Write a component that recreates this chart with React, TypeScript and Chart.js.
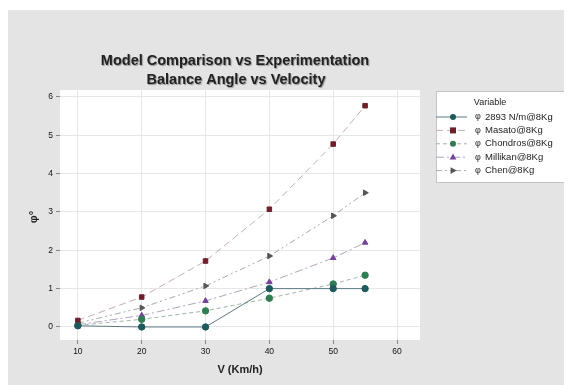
import React, { useEffect, useRef } from "react";
import { Chart, registerables } from "chart.js";

Chart.register(...registerables);

const velocities = [10, 20, 30, 40, 50, 55];
const spring2893 = [0.03, 0, 0, 1.0, 1.0, 1.0];
const masato = [0.17, 0.78, 1.72, 3.07, 4.77, 5.77];
const chondros = [0.04, 0.2, 0.42, 0.75, 1.12, 1.35];
const millikan = [0.06, 0.3, 0.68, 1.17, 1.8, 2.2];
const chen = [0.1, 0.5, 1.07, 1.85, 2.9, 3.5];

const seriesNames = ["2893 N/m@8Kg", "Masato@8Kg", "Chondros@8Kg", "Millikan@8Kg", "Chen@8Kg"];
const seriesPrefix = "φ";
const xTicks = [10, 20, 30, 40, 50, 60];
const yTicks = [0, 1, 2, 3, 4, 5, 6];
const titleLines = ["Model Comparison vs Experimentation", "Balance Angle vs Velocity"];
const xTitle = "V (Km/h)";
const yTitle = "φ°";
const legendTitle = "Variable";

const FONT = "'Liberation Sans', Arial, sans-serif";

function drawMarker(ctx: CanvasRenderingContext2D, style: string, rot: number, x: number, y: number, r: number, color: string) {
  ctx.save();
  ctx.fillStyle = color;
  ctx.translate(x, y);
  ctx.rotate((rot * Math.PI) / 180);
  ctx.beginPath();
  if (style === "rect") {
    ctx.rect(-r, -r, 2 * r, 2 * r);
  } else if (style === "triangle") {
    ctx.moveTo(0, -r * 1.2);
    ctx.lineTo(r * 1.1, r * 0.8);
    ctx.lineTo(-r * 1.1, r * 0.8);
    ctx.closePath();
  } else {
    ctx.arc(0, 0, r, 0, Math.PI * 2);
  }
  ctx.fill();
  ctx.restore();
}

export default function App() {
  const ref = useRef<HTMLCanvasElement | null>(null);

  useEffect(() => {
    if (!ref.current) return;
    const mk = (vals: number[]) => velocities.map((v, i) => ({ x: v, y: vals[i] }));
    const styles = [
      { line: "#5d7a84", marker: "#1e5a5c", dash: [] as number[], ps: "circle", rot: 0 },
      { line: "#c7aeb0", marker: "#6e1f2b", dash: [7, 4], ps: "rect", rot: 0 },
      { line: "#9fb5a6", marker: "#2f7d52", dash: [4, 3], ps: "circle", rot: 0 },
      { line: "#b3a3bd", marker: "#73439a", dash: [8, 3, 2, 3], ps: "triangle", rot: 0 },
      { line: "#a9a9a9", marker: "#555555", dash: [6, 3, 2, 3, 2, 3], ps: "triangle", rot: 90 },
    ];
    const allVals = [spring2893, masato, chondros, millikan, chen];
    const datasets = allVals.map((vals, i) => ({
      label: seriesNames[i],
      data: mk(vals),
      borderColor: styles[i].line,
      backgroundColor: styles[i].marker,
      pointBackgroundColor: styles[i].marker,
      pointBorderColor: styles[i].marker,
      pointStyle: styles[i].ps,
      pointRotation: styles[i].rot,
      pointRadius: styles[i].ps === "rect" ? 3.2 : 3.2,
      borderWidth: 1,
      borderDash: styles[i].dash,
      fill: false,
      tension: 0,
    }));

    const decor = {
      id: "decor",
      beforeDraw(chart: any) {
        const { ctx, chartArea: a } = chart;
        ctx.save();
        ctx.fillStyle = "#e4e4e4";
        ctx.fillRect(0, 0, chart.width, chart.height);
        ctx.fillStyle = "#ffffff";
        ctx.fillRect(a.left, a.top, a.right - a.left, a.bottom - a.top);
        ctx.restore();
      },
      afterDraw(chart: any) {
        const { ctx, chartArea: a } = chart;
        ctx.save();
        // Title with shadow
        ctx.textAlign = "center";
        ctx.textBaseline = "middle";
        ctx.font = `bold 14.5px ${FONT}`;
        ctx.shadowColor = "rgba(0,0,0,0.35)";
        ctx.shadowOffsetX = 1;
        ctx.shadowOffsetY = 1;
        ctx.shadowBlur = 1;
        ctx.fillStyle = "#222";
        ctx.fillText(titleLines[0], 227, 51);
        ctx.fillText(titleLines[1], 228, 70);
        ctx.shadowColor = "transparent";
        // axis titles
        ctx.font = `bold 11px ${FONT}`;
        ctx.fillText(xTitle, (a.left + a.right) / 2, 360);
        ctx.save();
        ctx.translate(26, 207);
        ctx.rotate(-Math.PI / 2);
        ctx.fillText(yTitle, 0, 0);
        ctx.restore();
        // legend
        const bx = 428, by = 81, bw = 131, bh = 91;
        ctx.fillStyle = "#ffffff";
        ctx.fillRect(bx, by, bw, bh);
        ctx.strokeStyle = "#c4c4c4";
        ctx.lineWidth = 1;
        ctx.strokeRect(bx + 0.5, by + 0.5, bw, bh);
        ctx.fillStyle = "#222";
        ctx.font = `9px ${FONT}`;
        ctx.textAlign = "center";
        ctx.fillText(legendTitle, 482, 93);
        ctx.textAlign = "left";
        chart.data.datasets.forEach((ds: any, i: number) => {
          const y = 107 + i * 13.4;
          ctx.save();
          ctx.strokeStyle = ds.borderColor;
          ctx.lineWidth = 1;
          ctx.setLineDash(ds.borderDash || []);
          ctx.beginPath();
          ctx.moveTo(428, y);
          ctx.lineTo(459, y);
          ctx.stroke();
          ctx.restore();
          drawMarker(ctx, ds.pointStyle, ds.pointRotation, 445, y, 3, ds.pointBackgroundColor);
          ctx.fillStyle = "#222";
          ctx.font = `9px ${FONT}`;
          ctx.fillText(seriesPrefix, 467, y);
          ctx.font = `9.5px ${FONT}`;
          ctx.fillText(ds.label, 477, y);
        });
        ctx.restore();
      },
    };

    const chart = new Chart(ref.current, {
      type: "line",
      data: { datasets: datasets as any },
      options: {
        animation: false,
        responsive: true,
        maintainAspectRatio: false,
        layout: { padding: { top: 80, right: 152, left: 0, bottom: 0 } },
        plugins: { legend: { display: false }, tooltip: { enabled: false }, title: { display: false } },
        scales: {
          x: {
            type: "linear",
            min: 7.2,
            max: 63.6,
            afterBuildTicks: (s: any) => {
              s.ticks = xTicks.map((v) => ({ value: v }));
            },
            afterFit: (s: any) => {
              s.height = 45;
            },
            grid: { color: "#e6e6e6", tickLength: 4, tickColor: "#888" },
            border: { display: false },
            ticks: { font: { family: FONT, size: 8.5 }, color: "#111", padding: 3, maxRotation: 0 },
          },
          y: {
            type: "linear",
            min: -0.34,
            max: 6.18,
            afterBuildTicks: (s: any) => {
              s.ticks = yTicks.map((v) => ({ value: v }));
            },
            afterFit: (s: any) => {
              s.width = 52;
            },
            grid: { color: "#e6e6e6", tickLength: 4, tickColor: "#888" },
            border: { display: false },
            ticks: { font: { family: FONT, size: 8.5 }, color: "#111", padding: 3 },
          },
        },
      },
      plugins: [decor],
    });
    return () => chart.destroy();
  }, []);

  return (
    <div style={{ width: 564, height: 375, marginTop: 2, position: "relative" }}>
      <canvas ref={ref} />
    </div>
  );
}
